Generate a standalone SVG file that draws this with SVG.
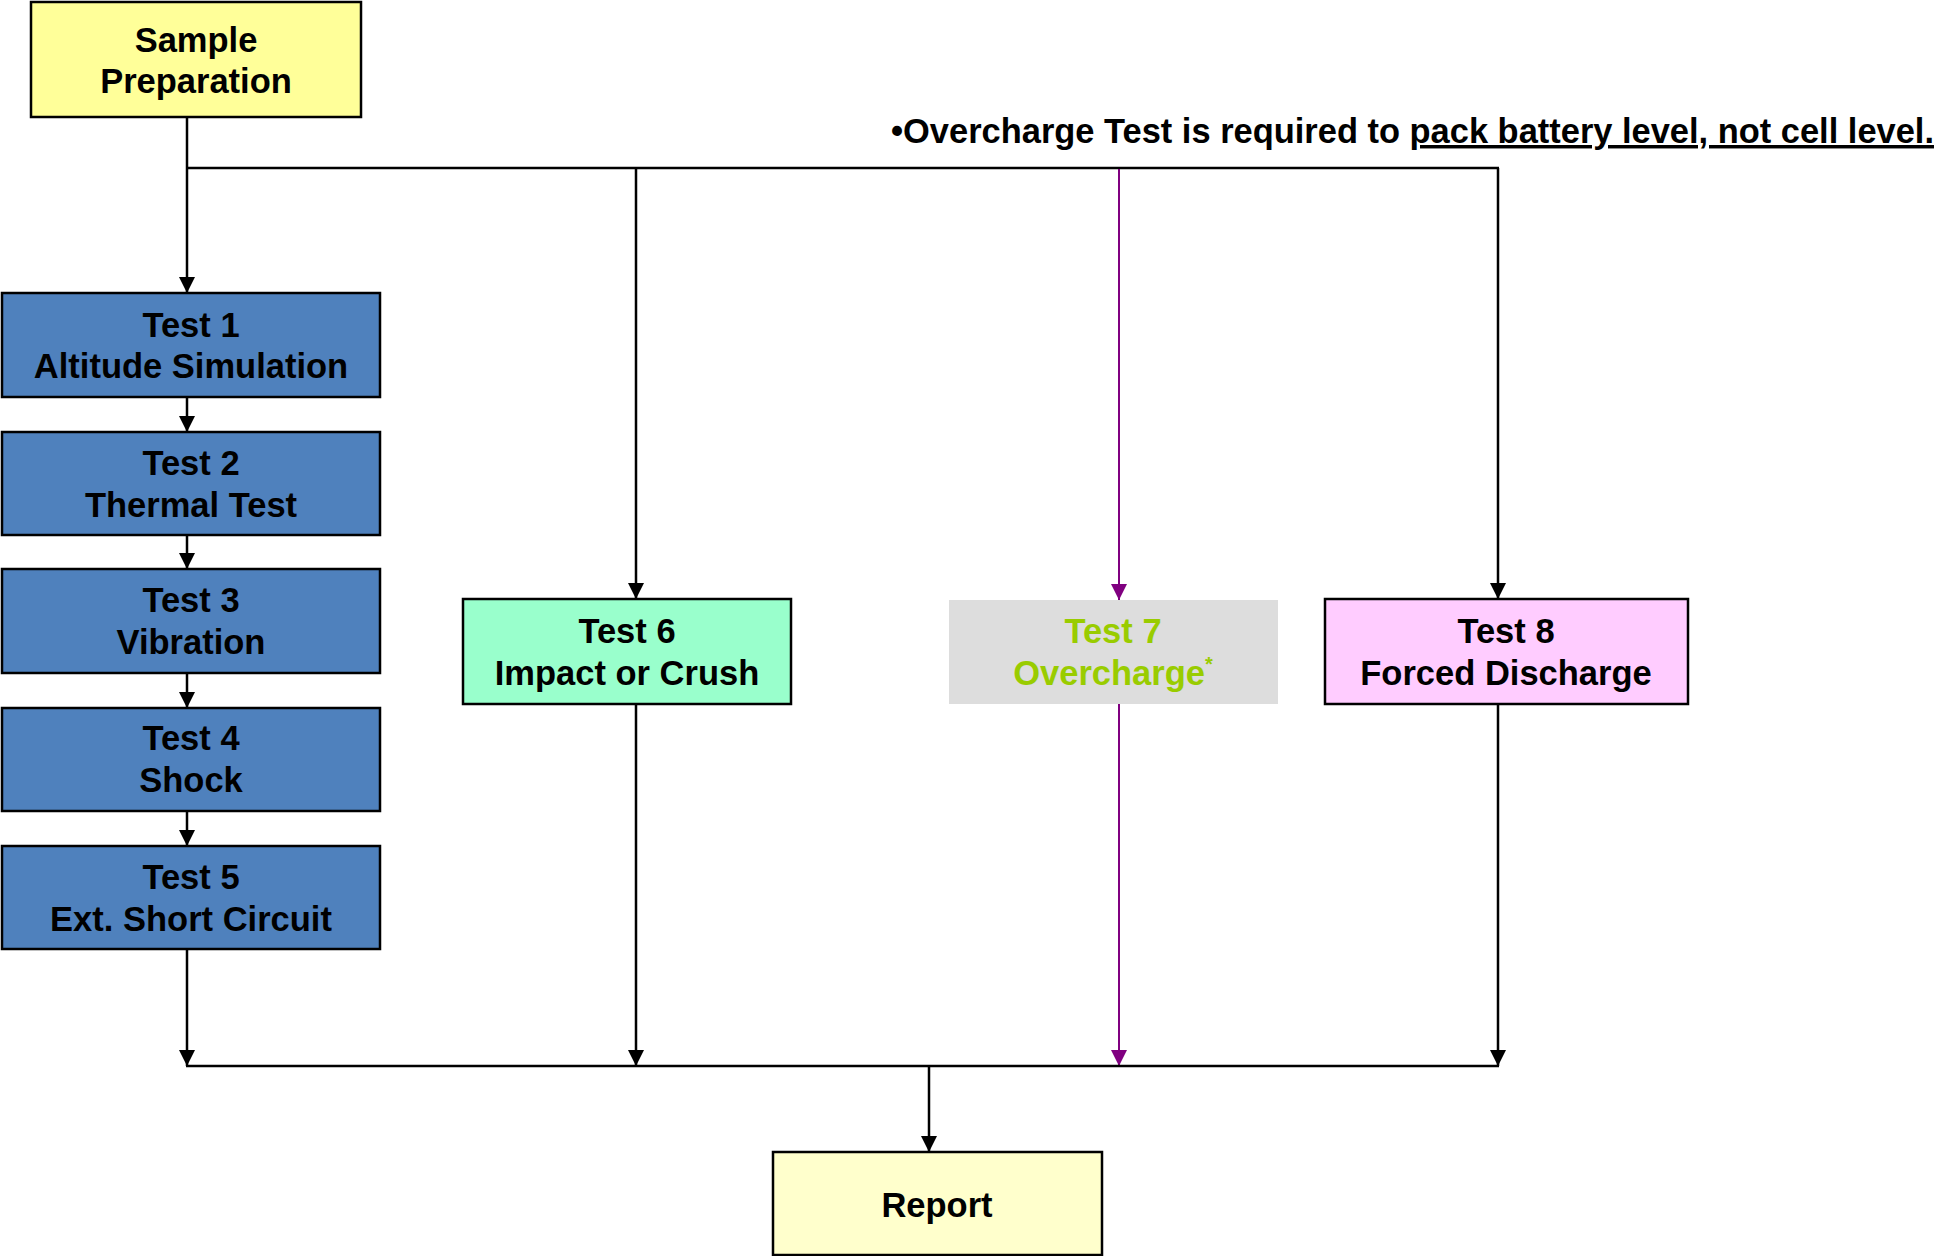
<svg xmlns="http://www.w3.org/2000/svg" width="1936" height="1256" viewBox="0 0 1936 1256">
<defs>
<style>
.box{stroke:#000;stroke-width:2.5}
.t{font-family:"Liberation Sans",Arial,sans-serif;font-weight:bold;font-size:34.5px;fill:#000;text-anchor:middle}
.c{fill:none;stroke:#000;stroke-width:2.5}
.p{fill:none;stroke:#800080;stroke-width:2}
</style>
<marker id="ah" markerUnits="userSpaceOnUse" markerWidth="16" markerHeight="16" refX="16" refY="8" orient="auto" viewBox="0 0 16 16">
<path d="M0,0 L16,8 L0,16 z" fill="#000"/>
</marker>
<marker id="ahp" markerUnits="userSpaceOnUse" markerWidth="16" markerHeight="16" refX="16" refY="8" orient="auto" viewBox="0 0 16 16">
<path d="M0,0 L16,8 L0,16 z" fill="#800080"/>
</marker>
</defs>
<rect width="1936" height="1256" fill="#fff"/>
<g id="connectors">
<line class="c" x1="187" y1="117" x2="187" y2="293" marker-end="url(#ah)"/>
<line class="c" x1="187" y1="168" x2="1499" y2="168"/>
<line class="c" x1="636" y1="168" x2="636" y2="599" marker-end="url(#ah)"/>
<line class="c" x1="1498" y1="168" x2="1498" y2="599" marker-end="url(#ah)"/>
<line class="p" x1="1119" y1="169" x2="1119" y2="600" marker-end="url(#ahp)"/>
<line class="c" x1="187" y1="397" x2="187" y2="432" marker-end="url(#ah)"/>
<line class="c" x1="187" y1="535" x2="187" y2="569" marker-end="url(#ah)"/>
<line class="c" x1="187" y1="673" x2="187" y2="708" marker-end="url(#ah)"/>
<line class="c" x1="187" y1="811" x2="187" y2="846" marker-end="url(#ah)"/>
<line class="c" x1="187" y1="949" x2="187" y2="1066" marker-end="url(#ah)"/>
<line class="c" x1="636" y1="704" x2="636" y2="1066" marker-end="url(#ah)"/>
<line class="p" x1="1119" y1="704" x2="1119" y2="1066" marker-end="url(#ahp)"/>
<line class="c" x1="1498" y1="704" x2="1498" y2="1066" marker-end="url(#ah)"/>
<line class="c" x1="186" y1="1066" x2="1499" y2="1066"/>
<line class="c" x1="929" y1="1066" x2="929" y2="1152" marker-end="url(#ah)"/>
</g>
<g id="sample">
<rect class="box" x="31" y="2" width="330" height="115" fill="#FFFF99"/>
<text class="t" x="196" y="52">Sample</text>
<text class="t" x="196" y="93">Preparation</text>
</g>
<g id="test1">
<rect class="box" x="2" y="293" width="378" height="104" fill="#4F81BD"/>
<text class="t" x="191" y="337">Test 1</text>
<text class="t" x="191" y="378">Altitude Simulation</text>
</g>
<g id="test2">
<rect class="box" x="2" y="432" width="378" height="103" fill="#4F81BD"/>
<text class="t" x="191" y="475">Test 2</text>
<text class="t" x="191" y="517">Thermal Test</text>
</g>
<g id="test3">
<rect class="box" x="2" y="569" width="378" height="104" fill="#4F81BD"/>
<text class="t" x="191" y="612">Test 3</text>
<text class="t" x="191" y="654">Vibration</text>
</g>
<g id="test4">
<rect class="box" x="2" y="708" width="378" height="103" fill="#4F81BD"/>
<text class="t" x="191" y="750">Test 4</text>
<text class="t" x="191" y="792">Shock</text>
</g>
<g id="test5">
<rect class="box" x="2" y="846" width="378" height="103" fill="#4F81BD"/>
<text class="t" x="191" y="889">Test 5</text>
<text class="t" x="191" y="931">Ext. Short Circuit</text>
</g>
<g id="test6">
<rect class="box" x="463" y="599" width="328" height="105" fill="#99FFCC"/>
<text class="t" x="627" y="643">Test 6</text>
<text class="t" x="627" y="685">Impact or Crush</text>
</g>
<g id="test7">
<rect x="949" y="600" width="329" height="104" fill="#DDDDDD"/>
<text class="t" x="1113" y="643" style="fill:#99CC00">Test 7</text>
<text class="t" x="1113" y="685" style="fill:#99CC00">Overcharge<tspan font-size="20" dy="-14">*</tspan></text>
</g>
<g id="test8">
<rect class="box" x="1325" y="599" width="363" height="105" fill="#FFCCFF"/>
<text class="t" x="1506" y="643">Test 8</text>
<text class="t" x="1506" y="685">Forced Discharge</text>
</g>
<g id="report">
<rect class="box" x="773" y="1152" width="329" height="103" fill="#FFFFCC"/>
<text class="t" x="937" y="1217">Report</text>
</g>
<g id="note">
<text x="891" y="143" textLength="1043" lengthAdjust="spacingAndGlyphs" style="font-family:'Liberation Sans',Arial,sans-serif;font-weight:bold;font-size:34.5px;fill:#000">•Overcharge Test is required to <tspan text-decoration="underline">pack battery level, not cell level.</tspan></text>
</g>
</svg>
